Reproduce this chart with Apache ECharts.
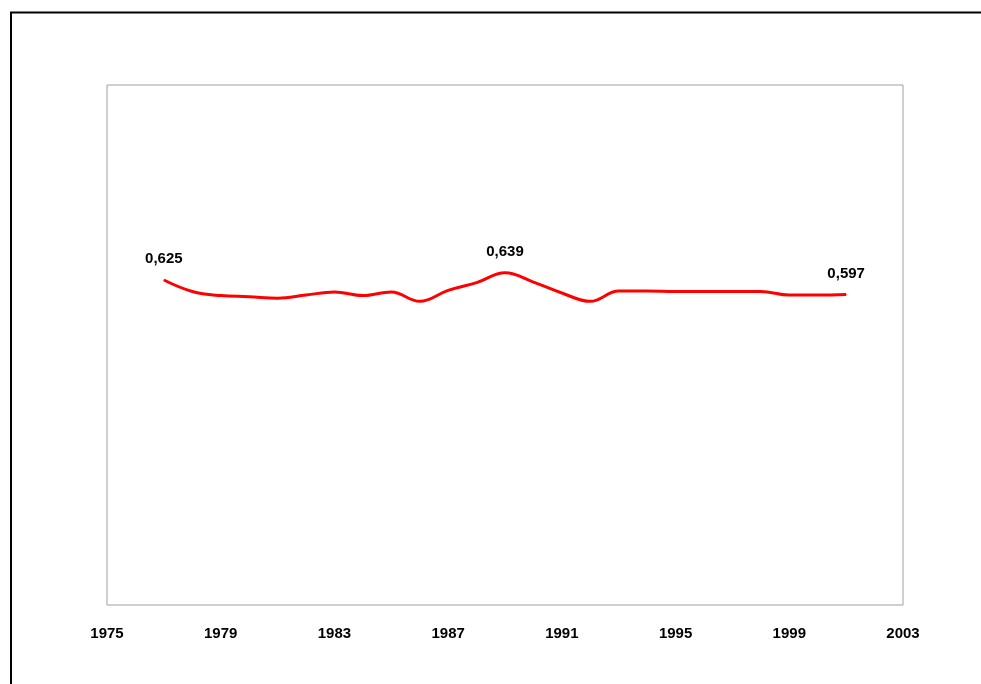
<!DOCTYPE html>
<html>
<head>
<meta charset="utf-8">
<script src="https://cdn.jsdelivr.net/npm/echarts@6/dist/echarts.min.js"></script>
<style>
  html, body { margin: 0; padding: 0; background: #fff; }
  #main { width: 981px; height: 684px; }
</style>
</head>
<body>
<div id="main"></div>
<script>
// years and values
var years = [1977, 1978, 1979, 1980, 1981, 1982, 1983, 1984, 1985, 1986, 1987, 1988, 1989,
             1990, 1991, 1992, 1993, 1994, 1995, 1996, 1997, 1998, 1999, 2000, 2001];
var values = [0.625, 0.603, 0.595, 0.593, 0.590, 0.596, 0.602, 0.595, 0.602, 0.584, 0.605, 0.620, 0.639,
              0.621, 0.600, 0.584, 0.604, 0.604, 0.603, 0.603, 0.603, 0.603, 0.596, 0.596, 0.597];
var labelledYears = [1977, 1989, 2001];
var xTicks = { min: 1975, max: 2003, step: 4 };

var chart = echarts.init(document.getElementById('main'));

var seriesData = years.map(function (y, i) {
    var item = { value: [y, values[i]] };
    if (labelledYears.indexOf(y) >= 0) {
        item.label = { show: true };
    }
    return item;
});

var option = {
    backgroundColor: '#fff',
    animation: false,
    grid: {
        left: 107, top: 85, right: 78, bottom: 79,
        show: true,
        borderColor: '#a0a0a0',
        borderWidth: 1
    },
    xAxis: {
        type: 'value',
        min: xTicks.min,
        max: xTicks.max,
        interval: xTicks.step,
        axisLine: { show: false },
        axisTick: { show: false },
        splitLine: { show: false },
        axisLabel: {
            margin: 21,
            color: '#000',
            fontWeight: 'bold',
            fontSize: 15,
            fontFamily: 'Liberation Sans, Arial, sans-serif',
            formatter: function (v) { return String(v); }
        }
    },
    yAxis: {
        type: 'value',
        min: 0,
        max: 1,
        show: false
    },
    graphic: [{
        type: 'rect',
        shape: { x: 11, y: 12.5, width: 1100, height: 800 },
        style: { fill: null, stroke: '#000', lineWidth: 2 },
        silent: true
    }],
    series: [{
        type: 'line',
        data: seriesData,
        smooth: 0.4,
        symbol: 'circle',
        symbolSize: 1,
        showSymbol: true,
        lineStyle: { color: '#ff0000', width: 3 },
        itemStyle: { color: '#ff0000' },
        label: {
            show: false,
            position: 'top',
            distance: 13,
            color: '#000',
            fontWeight: 'bold',
            fontSize: 15,
            fontFamily: 'Liberation Sans, Arial, sans-serif',
            formatter: function (p) {
                return p.value[1].toFixed(3).replace('.', ',');
            }
        }
    }]
};
chart.setOption(option);
</script>
</body>
</html>
